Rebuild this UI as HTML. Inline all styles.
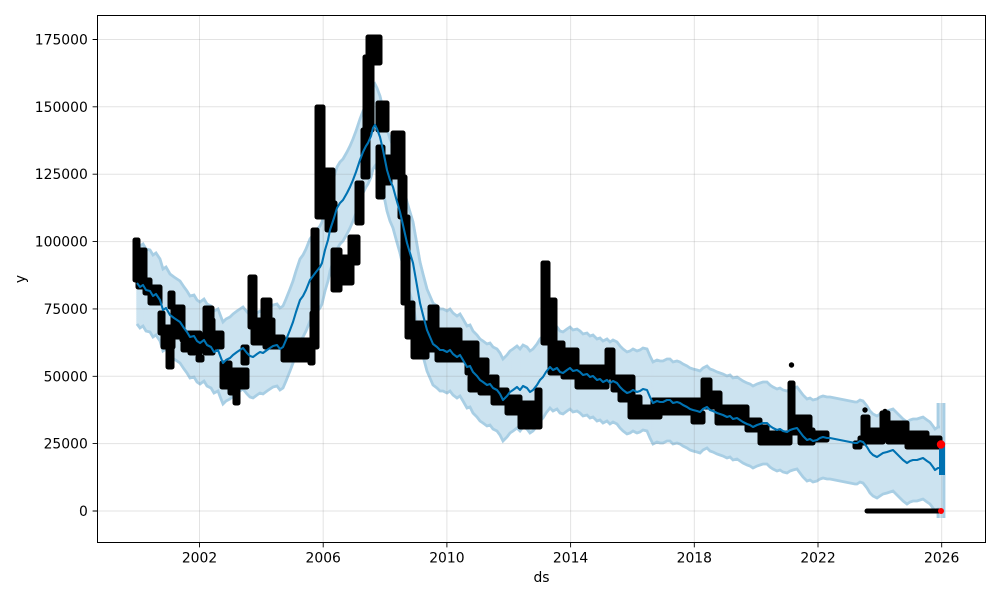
<!DOCTYPE html>
<html><head><meta charset="utf-8"><style>
html,body{margin:0;padding:0;background:#fff;}
svg{display:block;}
text{font-family:"DejaVu Sans","Liberation Sans",sans-serif;font-size:13.9px;fill:#000;}
</style></head><body>
<svg width="1000" height="600" viewBox="0 0 1000 600" xmlns="http://www.w3.org/2000/svg">
<defs>
<path id="L" fill="none" d="M137,283 L140,287 143,285 146,290 150,291 153,296 156,294 160,300 163,310 166,308 170,315 174,318 177,320 180,322 184,328 187,332 190,337 194,336 197,341 200,343 204,340 207,345 211,347 214,352 218,350 221,358 223,363 226,360 230,358 233,355 237,352 240,350 243,348 247,353 250,356 253,357 257,354 260,352 263,353 267,350 270,348 273,346 277,345 280,349 283,347 286,340 290,330 293,322 296,312 300,300 303,296 306,290 310,280 313,276 316,272 320,267 322,263 325,250 328,240 330,230 334,218 337,208 340,203 343,200 347,193 350,187 353,180 356,172 360,160 363,152 366,146 368,143 371,136 373,128 375,125 377,129 380,137 383,150 385,160 387,170 390,180 393,187 396,198 400,212 403,225 407,243 410,253 413,263 416,280 420,303 423,315 427,330 430,337 433,344 437,347 440,350 443,350 447,352 450,350 453,354 457,357 460,355 463,360 467,367 470,366 473,372 477,376 480,380 483,382 487,385 490,384 493,388 497,390 500,394 503,400 507,396 510,392 513,390 517,387 520,390 523,386 527,388 530,392 533,390 537,385 540,380 543,377 546,372 550,367 553,370 557,368 560,372 563,373 567,370 570,368 573,371 577,370 580,372 583,375 587,374 590,377 593,376 597,380 600,379 603,382 607,380 610,383 613,381 617,383 620,387 623,390 627,393 630,392 633,390 637,392 640,391 643,389 647,390 650,397 653,403 657,401 660,402 663,402 667,400 670,400 673,403 677,402 680,403 683,405 687,407 690,409 693,410 697,411 700,412 703,409 707,407 710,410 713,411 717,413 720,414 723,415 727,417 730,416 733,419 737,418 740,420 743,422 747,424 750,425 753,427 757,425 760,424 763,423 767,423 770,426 773,428 777,430 780,429 783,431 787,432 790,430 793,429 797,428 800,432 803,436 807,440 810,439 813,441 817,440 820,438 823,437 827,438 830,438 855,443 857,443 860,441 863,442 867,447 870,452 873,455 877,457 880,455 883,453 887,452 890,451 893,450 897,454 900,457 903,460 907,463 910,461 913,460 917,460 920,459 923,458 927,461 930,463 933,467 935,470 938,468 940,468"/>
</defs>

<g stroke="#cce3f0" stroke-width="3" fill="none">
<use href="#L" y="-40"/><use href="#L" y="-38"/><use href="#L" y="-36"/><use href="#L" y="-34"/><use href="#L" y="-32"/><use href="#L" y="-30"/><use href="#L" y="-28"/><use href="#L" y="-26"/><use href="#L" y="-24"/><use href="#L" y="-22"/><use href="#L" y="-20"/><use href="#L" y="-18"/><use href="#L" y="-16"/><use href="#L" y="-14"/><use href="#L" y="-12"/><use href="#L" y="-10"/><use href="#L" y="-8"/><use href="#L" y="-6"/><use href="#L" y="-4"/><use href="#L" y="-2"/><use href="#L" y="0"/><use href="#L" y="2"/><use href="#L" y="4"/><use href="#L" y="6"/><use href="#L" y="8"/><use href="#L" y="10"/><use href="#L" y="12"/><use href="#L" y="14"/><use href="#L" y="16"/><use href="#L" y="18"/><use href="#L" y="20"/><use href="#L" y="22"/><use href="#L" y="24"/><use href="#L" y="26"/><use href="#L" y="28"/><use href="#L" y="30"/><use href="#L" y="32"/><use href="#L" y="34"/><use href="#L" y="36"/><use href="#L" y="38"/><use href="#L" y="40"/>
</g>
<rect x="937" y="403" width="8" height="115" fill="#cce3f0"/>
<g stroke="#a8cee4" stroke-width="2.8" fill="none">
<use href="#L" y="-41"/><use href="#L" y="41"/>
<path d="M938,427 V403 M944,403 V518 M938,518 V508"/>
</g>

<g stroke="#808080" stroke-opacity="0.22" stroke-width="1">
<path d="M199.5,15.5 V542 M323.2,15.5 V542 M446.9,15.5 V542 M570.6,15.5 V542 M694.3,15.5 V542 M818,15.5 V542 M941.7,15.5 V542"/>
<path d="M97.5,511 H985.5 M97.5,443.6 H985.5 M97.5,376.3 H985.5 M97.5,308.9 H985.5 M97.5,241.6 H985.5 M97.5,174.2 H985.5 M97.5,106.8 H985.5 M97.5,39.5 H985.5"/>
</g>

<g fill="#000">
<rect x="132.5" y="237.5" width="8" height="45" rx="2.5"/>
<rect x="135.5" y="247.5" width="12" height="42" rx="2.5"/>
<rect x="142.5" y="277.5" width="10" height="18" rx="2.5"/>
<rect x="147.5" y="284.5" width="15" height="21" rx="2.5"/>
<rect x="157.5" y="310.5" width="8" height="25" rx="2.5"/>
<rect x="160.5" y="324.5" width="15" height="25" rx="2.5"/>
<rect x="167.5" y="290.5" width="8" height="19" rx="2.5"/>
<rect x="165.5" y="344.5" width="9" height="25" rx="2.5"/>
<rect x="170.5" y="304.5" width="15" height="35" rx="2.5"/>
<rect x="179.5" y="330.5" width="11" height="12" rx="2.5"/>
<rect x="180.5" y="340.5" width="19" height="12" rx="2.5"/>
<rect x="187.5" y="330.5" width="15" height="25" rx="2.5"/>
<rect x="195.5" y="354.5" width="9" height="8" rx="2.5"/>
<rect x="202.5" y="305.5" width="12" height="17" rx="2.5"/>
<rect x="202.5" y="317.5" width="13" height="38" rx="2.5"/>
<rect x="210.5" y="330.5" width="14" height="19" rx="2.5"/>
<rect x="219.5" y="360.5" width="13" height="29" rx="2.5"/>
<rect x="227.5" y="367.5" width="12" height="28" rx="2.5"/>
<rect x="232.5" y="384.5" width="8" height="21" rx="2.5"/>
<rect x="234.5" y="367.5" width="15" height="22" rx="2.5"/>
<rect x="240.5" y="344.5" width="9" height="21" rx="2.5"/>
<rect x="247.5" y="274.5" width="10" height="55" rx="2.5"/>
<rect x="250.5" y="317.5" width="15" height="28" rx="2.5"/>
<rect x="260.5" y="297.5" width="12" height="25" rx="2.5"/>
<rect x="262.5" y="317.5" width="13" height="32" rx="2.5"/>
<rect x="270.5" y="334.5" width="15" height="15" rx="2.5"/>
<rect x="280.5" y="337.5" width="32" height="25" rx="2.5"/>
<rect x="307.5" y="340.5" width="8" height="25" rx="2.5"/>
<rect x="309.5" y="310.5" width="10" height="32" rx="2.5"/>
<rect x="310.5" y="227.5" width="9" height="122" rx="2.5"/>
<rect x="314.5" y="104.5" width="11" height="115" rx="2.5"/>
<rect x="319.5" y="167.5" width="16" height="52" rx="2.5"/>
<rect x="324.5" y="200.5" width="13" height="32" rx="2.5"/>
<rect x="330.5" y="247.5" width="12" height="45" rx="2.5"/>
<rect x="335.5" y="254.5" width="19" height="31" rx="2.5"/>
<rect x="347.5" y="234.5" width="13" height="31" rx="2.5"/>
<rect x="354.5" y="180.5" width="10" height="45" rx="2.5"/>
<rect x="360.5" y="127.5" width="10" height="52" rx="2.5"/>
<rect x="362.5" y="54.5" width="12" height="78" rx="2.5"/>
<rect x="365.5" y="34.5" width="17" height="31" rx="2.5"/>
<rect x="375.5" y="100.5" width="14" height="32" rx="2.5"/>
<rect x="375.5" y="144.5" width="10" height="55" rx="2.5"/>
<rect x="377.5" y="154.5" width="15" height="31" rx="2.5"/>
<rect x="390.5" y="130.5" width="15" height="49" rx="2.5"/>
<rect x="397.5" y="174.5" width="10" height="45" rx="2.5"/>
<rect x="400.5" y="214.5" width="10" height="91" rx="2.5"/>
<rect x="404.5" y="300.5" width="11" height="39" rx="2.5"/>
<rect x="410.5" y="320.5" width="19" height="39" rx="2.5"/>
<rect x="424.5" y="327.5" width="15" height="25" rx="2.5"/>
<rect x="427.5" y="304.5" width="12" height="48" rx="2.5"/>
<rect x="434.5" y="327.5" width="28" height="35" rx="2.5"/>
<rect x="447.5" y="327.5" width="15" height="22" rx="2.5"/>
<rect x="454.5" y="340.5" width="18" height="22" rx="2.5"/>
<rect x="467.5" y="340.5" width="12" height="19" rx="2.5"/>
<rect x="464.5" y="357.5" width="25" height="18" rx="2.5"/>
<rect x="467.5" y="374.5" width="12" height="18" rx="2.5"/>
<rect x="477.5" y="374.5" width="22" height="21" rx="2.5"/>
<rect x="490.5" y="387.5" width="19" height="18" rx="2.5"/>
<rect x="504.5" y="394.5" width="18" height="21" rx="2.5"/>
<rect x="517.5" y="400.5" width="25" height="29" rx="2.5"/>
<rect x="534.5" y="387.5" width="8" height="22" rx="2.5"/>
<rect x="540.5" y="260.5" width="10" height="85" rx="2.5"/>
<rect x="542.5" y="297.5" width="15" height="48" rx="2.5"/>
<rect x="547.5" y="340.5" width="18" height="35" rx="2.5"/>
<rect x="560.5" y="347.5" width="19" height="32" rx="2.5"/>
<rect x="574.5" y="364.5" width="35" height="25" rx="2.5"/>
<rect x="604.5" y="347.5" width="11" height="32" rx="2.5"/>
<rect x="610.5" y="374.5" width="22" height="18" rx="2.5"/>
<rect x="617.5" y="374.5" width="18" height="28" rx="2.5"/>
<rect x="627.5" y="394.5" width="15" height="25" rx="2.5"/>
<rect x="637.5" y="404.5" width="25" height="15" rx="2.5"/>
<rect x="650.5" y="397.5" width="52" height="18" rx="2.5"/>
<rect x="690.5" y="410.5" width="15" height="14" rx="2.5"/>
<rect x="700.5" y="377.5" width="12" height="32" rx="2.5"/>
<rect x="704.5" y="390.5" width="18" height="19" rx="2.5"/>
<rect x="714.5" y="404.5" width="35" height="21" rx="2.5"/>
<rect x="744.5" y="417.5" width="18" height="15" rx="2.5"/>
<rect x="757.5" y="424.5" width="12" height="21" rx="2.5"/>
<rect x="764.5" y="430.5" width="28" height="15" rx="2.5"/>
<rect x="787.5" y="380.5" width="8" height="55" rx="2.5"/>
<rect x="790.5" y="414.5" width="19" height="21" rx="2.5"/>
<rect x="797.5" y="414.5" width="15" height="31" rx="2.5"/>
<rect x="800.5" y="427.5" width="15" height="18" rx="2.5"/>
<rect x="810.5" y="430.5" width="19" height="12" rx="2.5"/>
<rect x="852.5" y="440.5" width="10" height="9" rx="2.5"/>
<rect x="857.5" y="435.5" width="10" height="10" rx="2.5"/>
<rect x="860.5" y="414.5" width="10" height="30" rx="2.5"/>
<rect x="865.5" y="427.5" width="20" height="17" rx="2.5"/>
<rect x="879.5" y="410.5" width="11" height="30" rx="2.5"/>
<rect x="885.5" y="420.5" width="24" height="24" rx="2.5"/>
<rect x="904.5" y="430.5" width="25" height="19" rx="2.5"/>
<rect x="924.5" y="435.5" width="18" height="14" rx="2.5"/>
<rect x="864.5" y="508.5" width="78" height="5" rx="2.5"/>
<circle cx="791.5" cy="365" r="2.7"/>
<circle cx="865" cy="410" r="2.7"/>
<circle cx="885" cy="411.5" r="2.7"/>
</g>

<use href="#L" stroke="#0072B2" stroke-width="2.1" stroke-linejoin="round"/>
<rect x="939" y="443" width="6" height="32" fill="#0072B2"/>

<circle cx="941" cy="444.5" r="4.2" fill="#ff0000"/>
<circle cx="941" cy="511" r="3" fill="#ff0000"/>

<rect x="97.5" y="15.5" width="888" height="527" fill="none" stroke="#000" stroke-width="1"/>

<g stroke="#000" stroke-width="0.9">
<path d="M199.5,542.5 v4.9 M323.2,542.5 v4.9 M446.9,542.5 v4.9 M570.6,542.5 v4.9 M694.3,542.5 v4.9 M818,542.5 v4.9 M941.7,542.5 v4.9"/>
<path d="M97.5,511 h-4.9 M97.5,443.6 h-4.9 M97.5,376.3 h-4.9 M97.5,308.9 h-4.9 M97.5,241.6 h-4.9 M97.5,174.2 h-4.9 M97.5,106.8 h-4.9 M97.5,39.5 h-4.9"/>
</g>

<g text-anchor="middle">
<text x="199.5" y="562.7">2002</text>
<text x="323.2" y="562.7">2006</text>
<text x="446.9" y="562.7">2010</text>
<text x="570.6" y="562.7">2014</text>
<text x="694.3" y="562.7">2018</text>
<text x="818" y="562.7">2022</text>
<text x="941.7" y="562.7">2026</text>
</g>
<g text-anchor="end">
<text x="87.8" y="516">0</text>
<text x="87.8" y="448.6">25000</text>
<text x="87.8" y="381.3">50000</text>
<text x="87.8" y="313.9">75000</text>
<text x="87.8" y="246.6">100000</text>
<text x="87.8" y="179.2">125000</text>
<text x="87.8" y="111.8">150000</text>
<text x="87.8" y="44.5">175000</text>
</g>
<text x="541.5" y="582" text-anchor="middle">ds</text>
<text transform="translate(25,279) rotate(-90)" text-anchor="middle">y</text>
</svg>
</body></html>
